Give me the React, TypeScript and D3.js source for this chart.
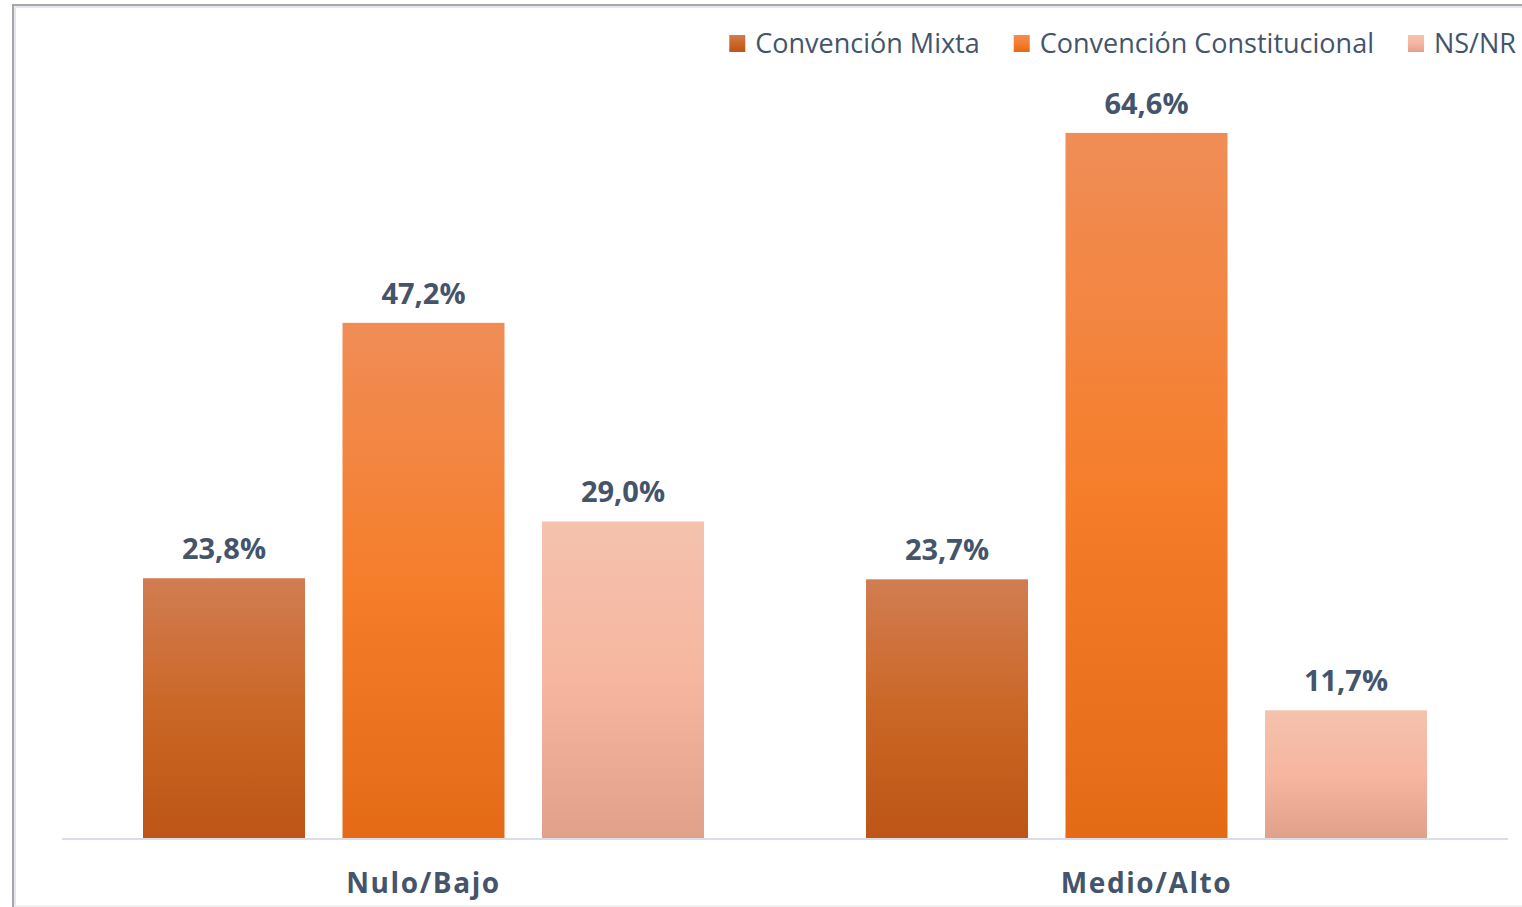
import React, { useEffect, useRef } from 'react';
import * as d3 from 'd3';

const categories = ['Nulo/Bajo', 'Medio/Alto'];
const seriesNames = ['Convención Mixta', 'Convención Constitucional', 'NS/NR'];
const mixta = [23.8, 23.7];
const constitucional = [47.2, 64.6];
const nsnr = [29.0, 11.7];

// gradient stops per series: top, middle, bottom
const seriesColors = [
  ['#d17d52', '#cb6726', '#bc5515'],
  ['#f08d57', '#f57e2b', '#e46a16'],
  ['#f4c2ae', '#f6b69f', '#e1a089'],
];

const App = () => {
  const ref = useRef<SVGSVGElement | null>(null);

  useEffect(() => {
    const width = 1522;
    const height = 907;
    const svg = d3.select(ref.current);
    svg.selectAll('*').remove();
    svg.attr('width', width).attr('height', height);

    const font = "'Open Sans', 'Noto Sans', sans-serif";
    const textColor = '#44546a';
    const values = [mixta, constitucional, nsnr];

    // frame
    svg.append('rect').attr('x', 0).attr('y', 0).attr('width', width).attr('height', height).attr('fill', '#fff');
    svg.append('line').attr('x1', 13).attr('x2', width).attr('y1', 5).attr('y2', 5)
      .attr('stroke', '#a6a6a6').attr('stroke-width', 2);
    svg.append('line').attr('x1', 13).attr('x2', 13).attr('y1', 4).attr('y2', height)
      .attr('stroke', '#a6a6a6').attr('stroke-width', 2);
    svg.append('line').attr('x1', 15).attr('x2', width).attr('y1', 7).attr('y2', 7)
      .attr('stroke', '#e3e6ee').attr('stroke-width', 2);
    svg.append('line').attr('x1', 15).attr('x2', 15).attr('y1', 7).attr('y2', height)
      .attr('stroke', '#e3e6ee').attr('stroke-width', 2);
    svg.append('line').attr('x1', 14).attr('x2', width).attr('y1', 906).attr('y2', 906)
      .attr('stroke', '#eeeeee').attr('stroke-width', 1.5);

    const defs = svg.append('defs');
    seriesColors.forEach((c, i) => {
      const g = defs.append('linearGradient').attr('id', `grad${i}`)
        .attr('x1', 0).attr('x2', 0).attr('y1', 0).attr('y2', 1);
      g.append('stop').attr('offset', '0%').attr('stop-color', c[0]);
      g.append('stop').attr('offset', '50%').attr('stop-color', c[1]);
      g.append('stop').attr('offset', '100%').attr('stop-color', c[2]);
    });

    const x0 = d3.scaleBand().domain(categories).range([62, 1508]);
    const x1 = d3.scaleBand().domain(seriesNames).range([0, x0.bandwidth()])
      .paddingInner(0.188).paddingOuter(0.406);
    const y = d3.scaleLinear().domain([0, 70]).range([838, 74]);

    // baseline
    svg.append('line').attr('x1', 62).attr('x2', 1508).attr('y1', y(0) + 1).attr('y2', y(0) + 1)
      .attr('stroke', '#d9dde6').attr('stroke-width', 2);

    const cells = categories.flatMap((cat, ci) =>
      seriesNames.map((s, si) => ({ cat, s, si, value: values[si][ci] })));

    svg.append('g').selectAll('rect').data(cells).enter().append('rect')
      .attr('x', d => (x0(d.cat) as number) + (x1(d.s) as number))
      .attr('y', d => y(d.value))
      .attr('width', x1.bandwidth())
      .attr('height', d => y(0) - y(d.value))
      .attr('fill', d => `url(#grad${d.si})`);

    svg.append('g').selectAll('text').data(cells).enter().append('text')
      .attr('x', d => (x0(d.cat) as number) + (x1(d.s) as number) + x1.bandwidth() / 2)
      .attr('y', d => y(d.value) - 19)
      .attr('text-anchor', 'middle')
      .attr('font-family', font).attr('font-weight', 700).attr('font-size', 29)
      .attr('fill', textColor)
      .text(d => d.value.toFixed(1).replace('.', ',') + '%');

    // category labels
    svg.append('g').selectAll('text').data(categories).enter().append('text')
      .attr('x', d => (x0(d) as number) + x0.bandwidth() / 2)
      .attr('y', 893)
      .attr('text-anchor', 'middle')
      .attr('font-family', font).attr('font-weight', 700).attr('font-size', 28)
      .attr('letter-spacing', 1.6)
      .attr('fill', textColor)
      .text(d => d);

    // legend, right aligned
    const legend = svg.append('g');
    const items = seriesNames.map((name, i) => {
      const g = legend.append('g');
      g.append('rect').attr('x', 0).attr('y', 35).attr('width', 16).attr('height', 17)
        .attr('fill', `url(#grad${i})`);
      const t = g.append('text').attr('x', 26).attr('y', 53)
        .attr('font-family', font).attr('font-size', 27).attr('fill', textColor)
        .text(name);
      const w = (t.node() as SVGTextElement).getComputedTextLength();
      return { g, w: 26 + w };
    });
    let right = 1516;
    for (let i = items.length - 1; i >= 0; i--) {
      const left = right - items[i].w;
      items[i].g.attr('transform', `translate(${left},0)`);
      right = left - 34;
    }
  }, []);

  return <svg ref={ref} style={{ display: 'block', position: 'absolute', left: 0, top: 0 }} />;
};

export default App;
